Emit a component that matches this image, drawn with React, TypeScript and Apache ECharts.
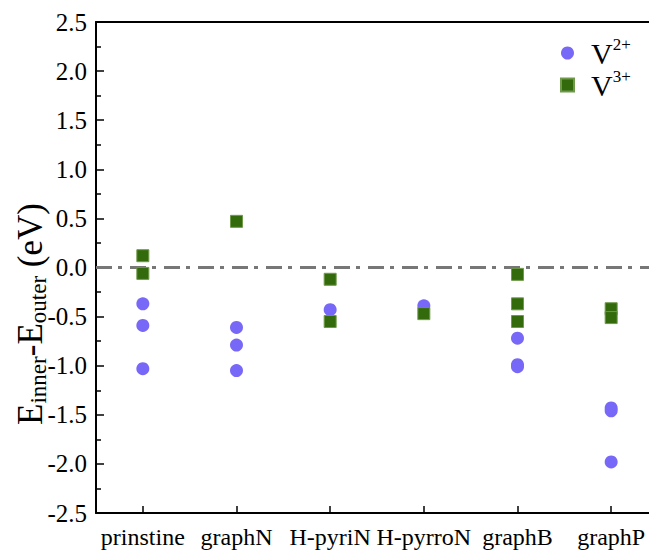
import React, { useEffect, useRef } from "react";
import * as echarts from "echarts";

const categories = ["prinstine", "graphN", "H-pyriN", "H-pyrroN", "graphB", "graphP"];
const v2Values: number[][] = [
  [-0.37, -0.59, -1.03],
  [-0.61, -0.79, -1.05],
  [-0.43],
  [-0.39],
  [-0.72, -0.99, -1.01],
  [-1.43, -1.46, -1.98],
];
const v3Values: number[][] = [
  [0.12, -0.06],
  [0.47],
  [-0.12, -0.55],
  [-0.47],
  [-0.07, -0.37, -0.55],
  [-0.42, -0.51],
];
const yTicks = { min: -2.5, max: 2.5, interval: 0.5 };

const FONT = "'Liberation Serif', 'Times New Roman', serif";

function toPoints(vals: number[][]) {
  const out: [number, number][] = [];
  vals.forEach((arr, i) => arr.forEach((v) => out.push([i, v])));
  return out;
}

export default function App() {
  const ref = useRef<HTMLDivElement>(null);
  useEffect(() => {
    if (!ref.current) return;
    const chart = echarts.init(ref.current, null, { renderer: "svg" });
    chart.setOption({
      animation: false,
      backgroundColor: "#fff",
      grid: { left: 96, top: 22, width: 562, height: 491, containLabel: false },
      legend: {
        orient: "vertical",
        left: 555,
        top: 31,
        itemWidth: 13,
        itemHeight: 13,
        itemGap: 0,
        data: [
          { name: "V2+", icon: "circle" },
          { name: "V3+", icon: "rect" },
        ],
        formatter: (name: string) =>
          name === "V2+" ? "{v|V}{s|2+}" : "{v|V}{s|3+}",
        textStyle: {
          padding: [0, 0, 0, 12],
          rich: {
            v: { fontFamily: FONT, fontSize: 30, color: "#000", lineHeight: 34 },
            s: {
              fontFamily: FONT,
              fontSize: 17,
              color: "#000",
              lineHeight: 34,
              verticalAlign: "top",
              padding: [0, 0, 10, 0],
            },
          },
        },
      },
      graphic: [
        {
          type: "text",
          x: 30,
          y: 314,
          rotation: Math.PI / 2,
          style: {
            text: "{b|E}{sub|inner}{b|-E}{sub|outer}{b| (eV)}",
            align: "center",
            verticalAlign: "middle",
            rich: {
              b: { fontFamily: FONT, fontSize: 35, fill: "#000", lineHeight: 40 },
              sub: {
                fontFamily: FONT,
                fontSize: 23,
                fill: "#000",
                lineHeight: 40,
                verticalAlign: "bottom",
                padding: [10, 0, 0, 0],
              },
            },
          },
        },
      ],
      xAxis: [
        {
          type: "category",
          data: categories,
          boundaryGap: true,
          axisLine: { show: true, onZero: false, lineStyle: { color: "#000", width: 2 } },
          axisTick: { show: true, inside: true, alignWithLabel: true, length: 7, lineStyle: { color: "#000", width: 1.5 } },
          axisLabel: { interval: 0, fontFamily: FONT, fontSize: 24, color: "#000", margin: 12 },
          splitLine: { show: false },
        },
        {
          type: "category",
          position: "top",
          data: categories,
          axisLine: { show: true, onZero: false, lineStyle: { color: "#000", width: 2 } },
          axisTick: { show: false },
          axisLabel: { show: false },
          splitLine: { show: false },
        },
      ],
      yAxis: {
        type: "value",
        min: yTicks.min,
        max: yTicks.max,
        interval: yTicks.interval,
        axisLine: { show: true, onZero: false, lineStyle: { color: "#000", width: 2 } },
        axisTick: { show: true, inside: true, length: 8, lineStyle: { color: "#000", width: 1.5 } },
        minorTick: { show: true, splitNumber: 2, length: 5, lineStyle: { color: "#000", width: 1.5 } },
        axisLabel: {
          fontFamily: FONT,
          fontSize: 25,
          color: "#000",
          margin: 9,
          formatter: (v: number) => v.toFixed(1),
        },
        splitLine: { show: false },
      },
      series: [
        {
          name: "V2+",
          type: "scatter",
          symbol: "circle",
          symbolSize: 13,
          itemStyle: { color: "#7768f7", opacity: 1 },
          data: toPoints(v2Values),
          z: 3,
          markLine: {
            silent: true,
            symbol: "none",
            label: { show: false },
            lineStyle: { color: "#777", width: 3, type: [16, 6, 4, 8] },
            data: [{ yAxis: 0 }],
            z: 1,
          },
        },
        {
          name: "V3+",
          type: "scatter",
          symbol: "rect",
          symbolSize: 12,
          itemStyle: { color: "#336b0c", borderColor: "#6f9a4a", borderWidth: 1, opacity: 1 },
          data: toPoints(v3Values),
          z: 4,
        },
      ],
    });
    return () => chart.dispose();
  }, []);
  return (
    <div style={{ width: 649, height: 552, position: "absolute", left: 0, top: 0, overflow: "hidden" }}>
      <div ref={ref} style={{ width: 662, height: 552 }} />
    </div>
  );
}
